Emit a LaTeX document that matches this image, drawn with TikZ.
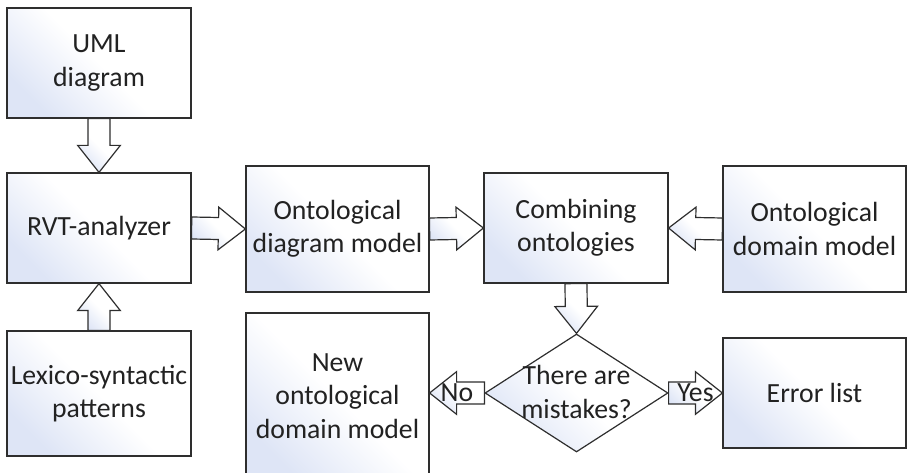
\documentclass[tikz,border=0pt]{standalone}
\usepackage{fontspec}
\setmainfont{Carlito}
\usetikzlibrary{calc,shapes.geometric}

\definecolor{edge}{HTML}{2E2E2E}
\definecolor{ink}{HTML}{222222}
\definecolor{tint}{RGB}{222,229,246}
\newcommand\pxu{0.75pt}

\tikzset{
  shade/.style={top color=tint, bottom color=white, middle color=white, shading angle=135},
  box/.style={draw=edge, line width=0.9pt, shade, text=ink, align=center,
    font=\fontsize{20.8}{25}\selectfont, inner sep=0pt},
  lbl/.style={text=ink, align=center, font=\fontsize{20.8}{25}\selectfont, inner sep=0pt},
  blockarrow/.style={draw=edge, line width=0.9pt, top color=tint, bottom color=white, middle color=white, shading angle=135, line join=miter},
}

% hollow block arrow from #1 to #2, tip at #2
\newcommand\blockarrow[2]{%
  \coordinate (ba-h) at ($(#2)!20.25pt!(#1)$);
  \path[blockarrow] ($(#1)!8.25pt!90:(#2)$) -- ($(ba-h)!8.25pt!90:(#2)$)
    -- ($(ba-h)!16pt!90:(#2)$) -- (#2) -- ($(ba-h)!16pt!-90:(#2)$)
    -- ($(ba-h)!8.25pt!-90:(#2)$) -- ($(#1)!8.25pt!-90:(#2)$) -- cycle;}

\begin{document}
\begin{tikzpicture}[x=0.75pt,y=-0.75pt]
  \useasboundingbox (0,0) rectangle (907,473);
  \clip (0,0) rectangle (907,473);

  % left column
  \node[box, minimum width=184*\pxu, minimum height=110*\pxu] (uml) at (99,63) {UML\\diagram};
  \node[box, minimum width=184*\pxu, minimum height=110*\pxu] (rvt) at (99,228) {RVT-analyzer};
  \node[box, minimum width=184*\pxu, minimum height=125*\pxu] (lex) at (99,393.5) {Lexico-syntactic\\patterns};

  % middle row
  \node[box, minimum width=183*\pxu, minimum height=126*\pxu] (ontd) at (337.5,229) {Ontological\\diagram model};
  \node[box, minimum width=184*\pxu, minimum height=110*\pxu] (comb) at (576,228) {Combining\\ontologies};
  \node[box, minimum width=183*\pxu, minimum height=126*\pxu] (dom) at (814.5,229) {Ontological\\domain model};

  % bottom row
  \node[box, minimum width=183*\pxu, minimum height=166*\pxu] (newm) at (337.5,396) {New\\ontological\\domain model};
  \node[diamond, draw=edge, line width=0.9pt, shade, minimum width=183*\pxu, minimum height=118*\pxu, inner sep=0pt] (dec) at (576.5,393) {};
  \node[lbl] (dect) at (576.5,392) {There are\\mistakes?};
  \node[box, minimum width=183*\pxu, minimum height=110*\pxu] (err) at (814.5,393) {Error list};

  % connectors
  \blockarrow{uml.south}{rvt.north}
  \blockarrow{lex.north}{rvt.south}
  \blockarrow{rvt.east}{ontd.west}
  \blockarrow{ontd.east}{comb.west}
  \blockarrow{dom.west}{comb.east}
  \blockarrow{comb.south}{dec.north}
  \coordinate (noend) at (dec.west -| newm.east);
  \blockarrow{dec.west}{noend}
  \blockarrow{dec.east}{err.west}

  \node[lbl] (no) at ($(dec.west)!0.5!(noend)$) {No};
  \node[lbl] (yes) at ($(dec.east)!0.5!(err.west)$) {Yes};
\end{tikzpicture}
\end{document}
